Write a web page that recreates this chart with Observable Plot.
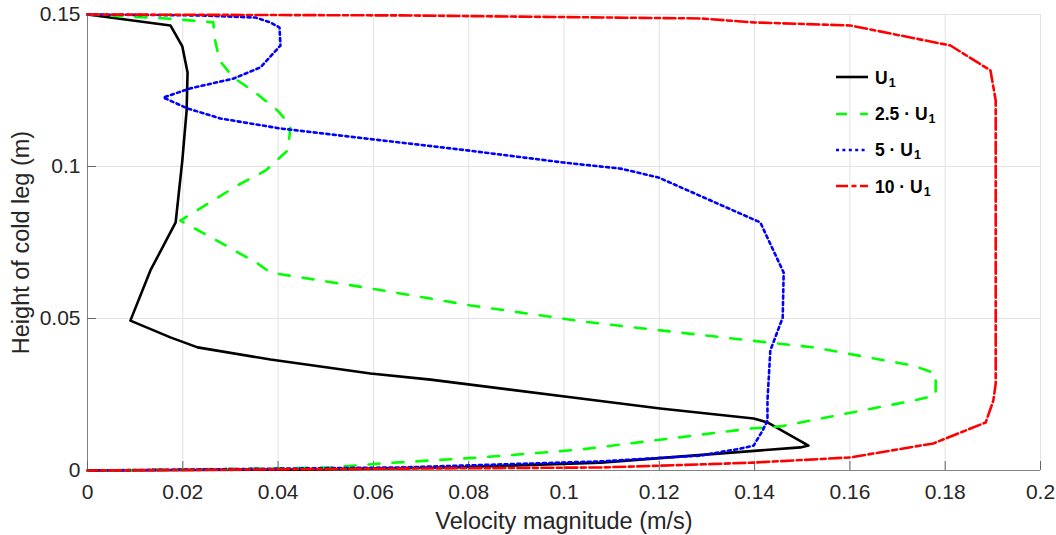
<!DOCTYPE html>
<html><head><meta charset="utf-8">
<script src="https://cdn.jsdelivr.net/npm/d3@7"></script>
<script src="https://cdn.jsdelivr.net/npm/@observablehq/plot@0.6"></script>
<style>
body{margin:0;background:#fff;}
#wrap{position:relative;width:1056px;height:535px;font-family:"Liberation Sans",Arial,sans-serif;}
#legend{position:absolute;left:836px;top:59px;}
.row{display:flex;align-items:center;height:36.4px;font-weight:bold;font-size:17.5px;color:#000;white-space:nowrap;}
.row svg{margin-right:7px;flex:none;}
.row .lbl{position:relative;top:1px;}
.row sub{font-size:12.5px;position:relative;top:3px;vertical-align:baseline;margin-left:1px;}
</style></head><body><div id="wrap"><div id="legend"></div></div>
<script>
// ---- data ----
const xTicks = [0,0.02,0.04,0.06,0.08,0.1,0.12,0.14,0.16,0.18,0.2];
const yTicks = [0,0.05,0.1,0.15];
const xLabel = "Velocity magnitude (m/s)";
const yLabel = "Height of cold leg (m)";
const seriesNames = ["U1","2.5 · U1","5 · U1","10 · U1"];

const u1X = [0,0.0174,0.0199,0.0210,0.0208,0.0199,0.0185,0.0132,0.0090,0.0174,0.0231,0.0384,0.0594,0.0720,0.1035,0.1202,0.1398,0.1427,0.1513,0.1496,0.1077,0.0762,0.0447,0];
const u1Y = [0.15,0.1464,0.1395,0.1309,0.1184,0.1020,0.0816,0.0658,0.0493,0.0438,0.0405,0.0365,0.0319,0.0299,0.0237,0.0204,0.0171,0.0158,0.0082,0.0076,0.0026,0.0010,0.0003,0];

const u25X = [0,0.0164,0.0220,0.0264,0.0267,0.0277,0.0306,0.0355,0.0399,0.0426,0.0424,0.0420,0.0374,0.0315,0.0195,0.0264,0.0357,0.0384,0.0594,0.0804,0.1041,0.1202,0.1412,0.1524,0.1733,0.1780,0.1780,0.1733,0.1595,0.1454,0.1391,0.1035,0.0825,0.0615,0.0510,0.0405,0];
const u25Y = [0.15,0.1487,0.1480,0.1474,0.1421,0.1349,0.1293,0.1240,0.1184,0.1135,0.1102,0.1053,0.0987,0.0938,0.0822,0.0763,0.0681,0.0651,0.0599,0.0543,0.0490,0.0461,0.0424,0.0405,0.0345,0.0319,0.0247,0.0230,0.0188,0.0145,0.0138,0.0069,0.0043,0.0023,0.0010,0.0007,0];

const u5X = [0,0.0237,0.0353,0.0384,0.0403,0.0405,0.0363,0.0306,0.0216,0.0159,0.0210,0.0279,0.0405,0.0797,0.0999,0.1119,0.1198,0.1412,0.1461,0.1459,0.1433,0.1427,0.1427,0.1417,0.1398,0.1370,0.1286,0.1077,0.0657,0];
const u5Y = [0.15,0.1497,0.1490,0.1474,0.1457,0.1398,0.1326,0.1289,0.1257,0.1227,0.1191,0.1158,0.1125,0.1053,0.1013,0.0993,0.0964,0.0816,0.0651,0.0503,0.0395,0.0230,0.0164,0.0132,0.0082,0.0072,0.0049,0.0030,0.0010,0];

const u10X = [0,0.0657,0.1286,0.1398,0.1601,0.1811,0.1895,0.1906,0.1906,0.1901,0.1885,0.1775,0.1601,0.1398,0.1286,0.1077,0];
const u10Y = [0.15,0.1497,0.1487,0.1474,0.1464,0.1398,0.1316,0.1217,0.0286,0.0230,0.0158,0.0089,0.0043,0.0026,0.0020,0.0010,0];

// ---- styles ----
const styles = [
  {stroke:"#000000", dash:null},
  {stroke:"#00ff00", dash:"11,13"},
  {stroke:"#0000ff", dash:"3,3.4"},
  {stroke:"#ff0000", dash:"12,3.5,5,3.5"}
];
const xs = [u1X,u25X,u5X,u10X], ys = [u1Y,u25Y,u5Y,u10Y];
const tables = xs.map((X,i) => X.map((x,j) => ({x, y: ys[i][j]})));
const fmt = d => String(+d.toFixed(2));

const lineMarks = tables.map((t,i) => Plot.line(t, {x:"x", y:"y", stroke: styles[i].stroke, strokeWidth: 2.6, strokeDasharray: styles[i].dash, curve:"linear", strokeLinejoin:"round"}));

const chart = Plot.plot({
  width: 1056, height: 535,
  marginLeft: 87, marginRight: 16, marginTop: 14, marginBottom: 65,
  style: {fontFamily: "'Liberation Sans', Arial, sans-serif", background: "#fff", color: "#262626", overflow: "visible"},
  x: {domain: [0, 0.2]},
  y: {domain: [0, 0.15]},
  marks: [
    Plot.gridX(xTicks, {stroke: "#e2e2e2", strokeOpacity: 1}),
    Plot.gridY(yTicks, {stroke: "#e2e2e2", strokeOpacity: 1}),
    Plot.ruleX([0], {stroke: "#808080"}),
    Plot.ruleY([0], {stroke: "#808080"}),
    Plot.axisX(xTicks, {tickSize: 9, dy: -9, tickFormat: () => "", label: null, stroke: "#666"}),
    Plot.axisY(yTicks, {tickSize: 9, dx: 9, tickFormat: () => "", label: null, stroke: "#666"}),
    Plot.axisX(xTicks, {tickSize: 0, tickPadding: 14, tickFormat: fmt, fontSize: 21, label: null}),
    Plot.axisY(yTicks, {tickSize: 0, tickPadding: 7, tickFormat: fmt, fontSize: 21, label: null}),
    ...lineMarks,
    Plot.text([xLabel], {text: d => d, frameAnchor: "bottom", lineAnchor: "middle", textAnchor: "middle", dy: 51, fontSize: 23.5, fill: "#262626"}),
    Plot.text([yLabel], {text: d => d, frameAnchor: "left", lineAnchor: "middle", textAnchor: "middle", dx: -66, rotate: -90, fontSize: 23.5, fill: "#262626"})
  ]
});
document.getElementById("wrap").prepend(chart);

// ---- legend ----
const leg = document.getElementById("legend");
seriesNames.forEach((name, i) => {
  const row = document.createElement("div");
  row.className = "row";
  const s = styles[i];
  row.innerHTML = `<svg width="32" height="6"><line x1="0" x2="32" y1="3" y2="3" stroke="${s.stroke}" stroke-width="2.6" ${s.dash ? `stroke-dasharray="${s.dash}"` : ""}/></svg>` +
    `<span class="lbl">${name.replace(/U1$/, "U<sub>1</sub>")}</span>`;
  leg.appendChild(row);
});
</script>
</body></html>
